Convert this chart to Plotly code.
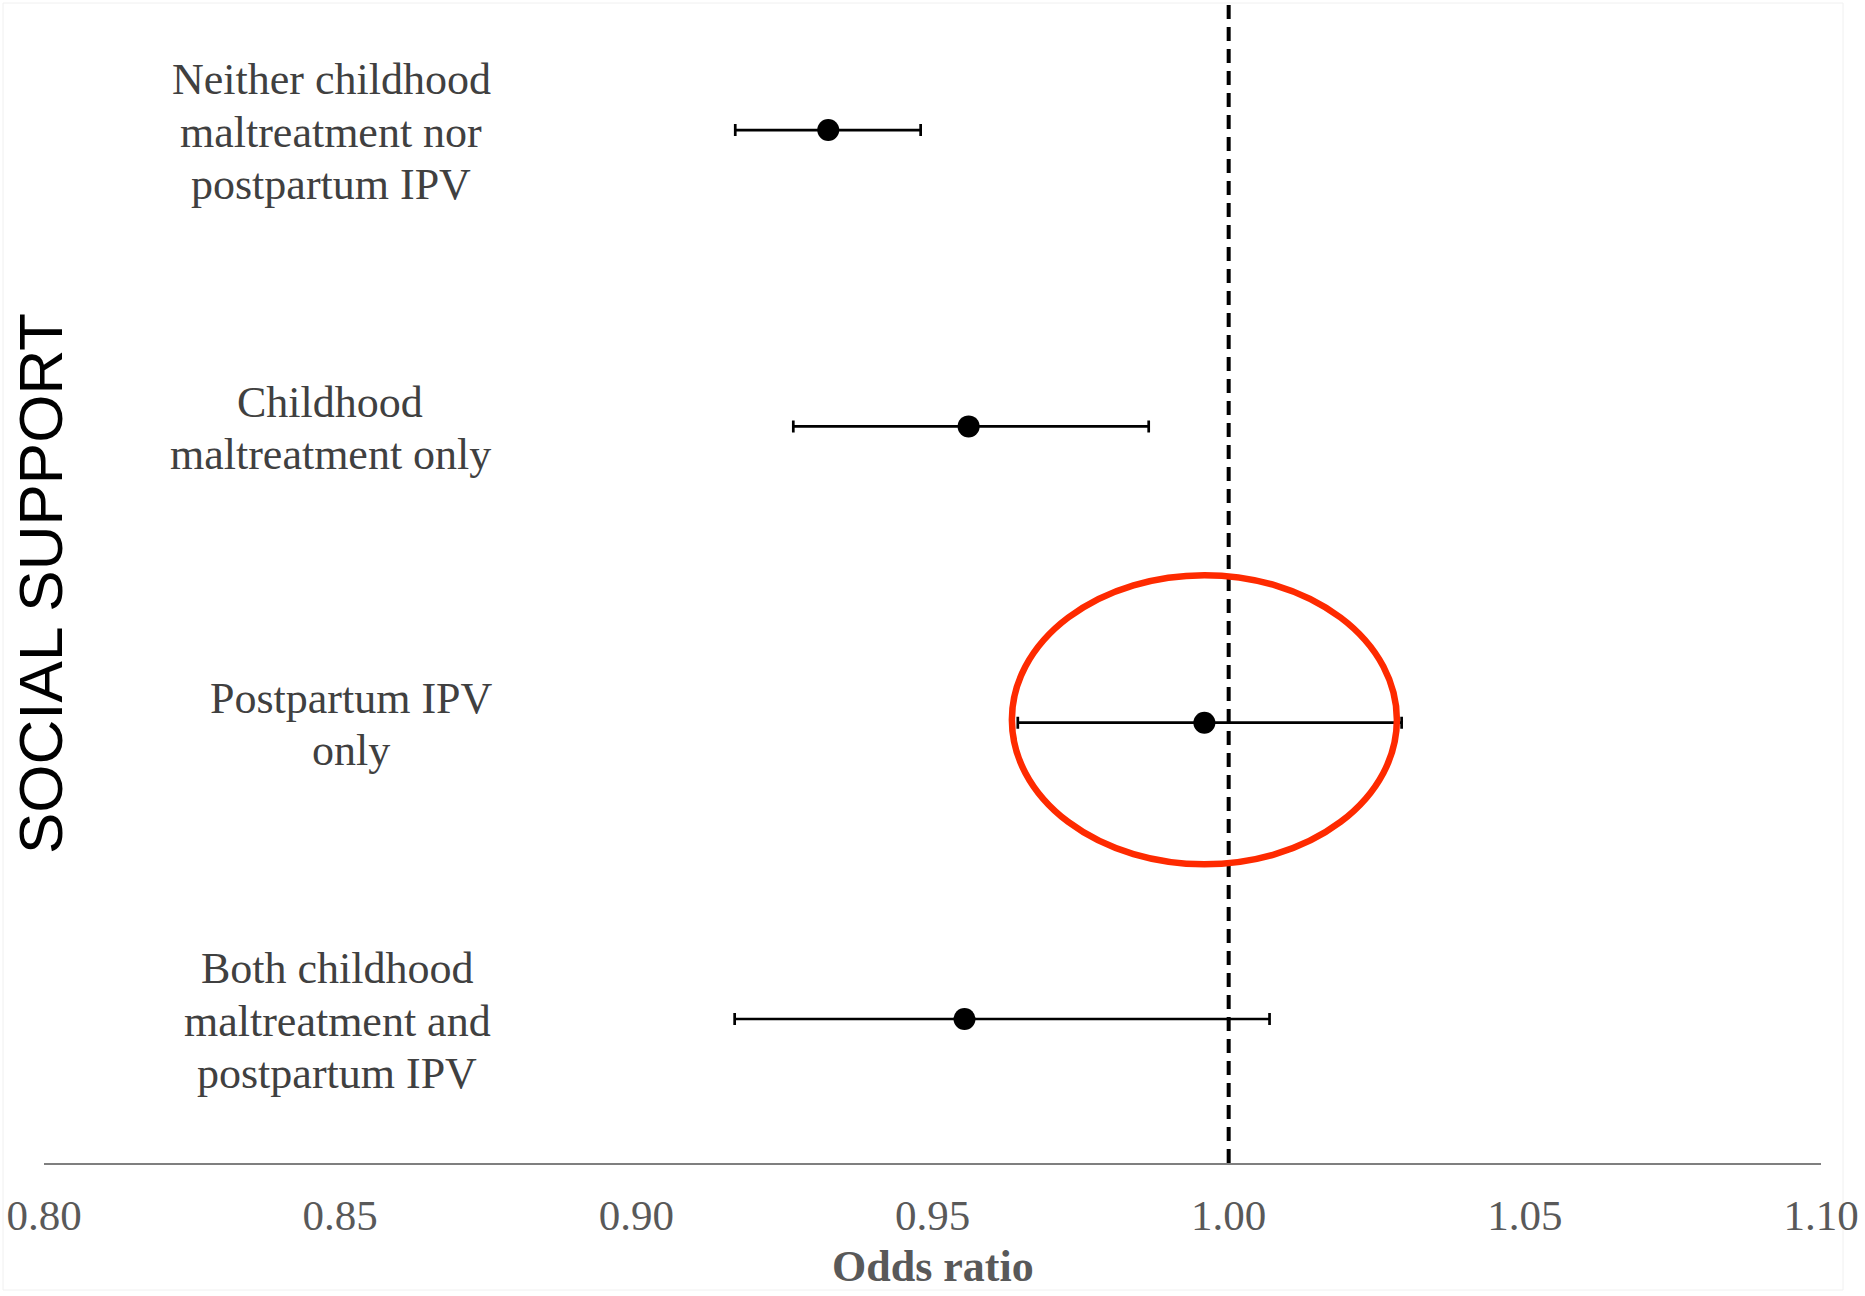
import plotly.graph_objects as go

# ---- data ----
categories = [
    ["Neither childhood", "maltreatment nor", "postpartum IPV"],
    ["Childhood", "maltreatment only"],
    ["Postpartum IPV", "only"],
    ["Both childhood", "maltreatment and", "postpartum IPV"],
]
odds_ratio = [0.9324, 0.9561, 0.9959, 0.9554]
ci_low = [0.9167, 0.9265, 0.9644, 0.9166]
ci_high = [0.9480, 0.9865, 1.0292, 1.0069]
row_pos = [4, 3, 2, 1]
x_ticks = [0.80, 0.85, 0.90, 0.95, 1.00, 1.05, 1.10]
x_tick_labels = ["0.80", "0.85", "0.90", "0.95", "1.00", "1.05", "1.10"]
reference_line = 1.00
highlight_index = 2

W, H = 1865, 1296
ML, MR, MT, MB = 44, 44, 0, 133
plot_w = W - ML - MR
plot_h = H - MT - MB

fig = go.Figure()
fig.add_trace(go.Scatter(
    x=odds_ratio,
    y=row_pos,
    mode="markers",
    marker=dict(color="black", size=22),
    error_x=dict(
        type="data",
        symmetric=False,
        array=[h - o for h, o in zip(ci_high, odds_ratio)],
        arrayminus=[o - l for o, l in zip(odds_ratio, ci_low)],
        color="black",
        thickness=2.7,
        width=6,
    ),
    showlegend=False,
    hoverinfo="skip",
))

shapes = []
# dashed reference line
shapes.append(dict(type="line", xref="x", yref="paper", x0=reference_line, x1=reference_line,
                   y0=0, y1=1, line=dict(color="black", width=4, dash="14px,8px"), layer="above"))
# highlight ellipse around the chosen row
hx = odds_ratio[highlight_index]
hy = row_pos[highlight_index] + 0.01
shapes.append(dict(type="circle", xref="x", yref="y",
                   x0=hx - 0.0325, x1=hx + 0.0325, y0=hy - 0.488, y1=hy + 0.488,
                   line=dict(color="#fe2a00", width=6.5), layer="above"))
# faint outer frame
shapes.append(dict(type="rect", xref="paper", yref="paper",
                   x0=(3 - ML) / plot_w, x1=(1843 - ML) / plot_w,
                   y0=1 - (1290 - MT) / plot_h, y1=1 - (3 - MT) / plot_h,
                   line=dict(color="#f0f0f0", width=1), layer="below"))

annotations = []
label_x_px = [331, 330, 351, 337]
line_gap = 52.3
for lines, ypos, lx in zip(categories, row_pos, label_x_px):
    n = len(lines)
    mid = (n - 1) / 2
    for i, txt in enumerate(lines):
        annotations.append(dict(
            x=(lx - ML) / plot_w, xref="paper", y=ypos, yref="y",
            text=txt, showarrow=False, xanchor="center", yanchor="middle",
            yshift=(mid - i) * line_gap - 2,
            font=dict(family="Liberation Serif, Times New Roman, serif", size=44, color="#404040"),
        ))

annotations.append(dict(
    x=(40 - ML) / plot_w, xref="paper", y=1 - (584 - MT) / plot_h, yref="paper",
    text="SOCIAL SUPPORT", textangle=-90, showarrow=False,
    xanchor="center", yanchor="middle",
    font=dict(family="Liberation Sans, Arial, sans-serif", size=62, color="black"),
))
annotations.append(dict(
    x=0.5, xref="paper", y=1 - (1266 - MT) / plot_h, yref="paper",
    text="<b>Odds ratio</b>", showarrow=False, xanchor="center", yanchor="middle",
    font=dict(family="Liberation Serif, Times New Roman, serif", size=44, color="#595959"),
))

fig.update_layout(
    width=W, height=H,
    margin=dict(l=ML, r=MR, t=MT, b=MB, pad=0),
    paper_bgcolor="white", plot_bgcolor="white",
    shapes=shapes, annotations=annotations,
    xaxis=dict(
        range=[0.80, 1.10], tickvals=x_ticks, ticktext=x_tick_labels,
        showgrid=False, zeroline=False, showline=True, linecolor="#7f7f7f", linewidth=2,
        ticks="", ticklabelstandoff=13,
        tickfont=dict(family="Liberation Serif, Times New Roman, serif", size=43, color="#595959"),
    ),
    yaxis=dict(range=[0.514, 4.439], visible=False, showgrid=False, zeroline=False),
)

fig.write_html("out.html", config={"displayModeBar": False},
               post_script="document.body.style.margin='0';document.body.style.overflow='hidden';")
